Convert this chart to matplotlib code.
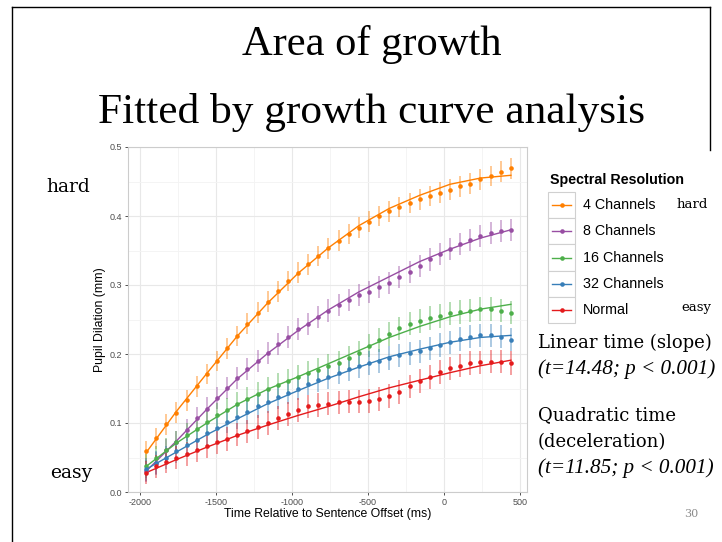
#!/usr/bin/env python3
"""
Pupil dilation growth curve slide
"""
import matplotlib
matplotlib.use('Agg')
import matplotlib.pyplot as plt
from matplotlib.lines import Line2D
from matplotlib.patches import Rectangle

W, H = 722, 542

# time bins (ms relative to sentence offset)
time_ms = [-1960, -1893, -1827, -1760, -1693, -1627, -1560, -1493, -1427,
           -1360, -1293, -1227, -1160, -1093, -1027, -960, -893, -827,
           -760, -693, -627, -560, -493, -427, -360, -293, -227, -160,
           -93, -27, 40, 107, 173, 240, 307, 373, 440]

series_names = ['4 Channels', '8 Channels', '16 Channels', '32 Channels', 'Normal']
colors = ['#FF7F00', '#984EA3', '#4DAF4A', '#377EB8', '#E41A1C']

ch4_mean = [0.059, 0.078, 0.098, 0.115, 0.133, 0.153, 0.171, 0.190, 0.208,
            0.226, 0.244, 0.260, 0.276, 0.291, 0.306, 0.318, 0.330, 0.342,
            0.353, 0.364, 0.374, 0.383, 0.392, 0.400, 0.407, 0.413, 0.419,
            0.424, 0.429, 0.434, 0.438, 0.443, 0.447, 0.453, 0.458, 0.464,
            0.469]
ch8_mean = [0.031, 0.042, 0.061, 0.073, 0.090, 0.107, 0.121, 0.136, 0.151,
            0.165, 0.178, 0.190, 0.202, 0.214, 0.225, 0.236, 0.244, 0.254,
            0.263, 0.271, 0.278, 0.285, 0.290, 0.297, 0.303, 0.311, 0.319,
            0.328, 0.337, 0.345, 0.352, 0.359, 0.365, 0.371, 0.376, 0.378,
            0.380]
ch16_mean = [0.038, 0.049, 0.061, 0.072, 0.083, 0.092, 0.102, 0.112, 0.119,
             0.128, 0.135, 0.142, 0.149, 0.155, 0.161, 0.167, 0.173, 0.177,
             0.183, 0.187, 0.194, 0.202, 0.212, 0.220, 0.229, 0.237, 0.244,
             0.248, 0.252, 0.255, 0.259, 0.261, 0.263, 0.265, 0.265, 0.263,
             0.260]
ch32_mean = [0.033, 0.042, 0.050, 0.059, 0.068, 0.076, 0.085, 0.093, 0.102,
             0.109, 0.116, 0.124, 0.131, 0.137, 0.144, 0.150, 0.157, 0.162,
             0.167, 0.173, 0.178, 0.182, 0.187, 0.190, 0.194, 0.198, 0.201,
             0.204, 0.208, 0.213, 0.217, 0.222, 0.225, 0.227, 0.227, 0.225,
             0.221]
normal_mean = [0.028, 0.037, 0.044, 0.050, 0.055, 0.061, 0.066, 0.072, 0.077,
               0.083, 0.088, 0.094, 0.100, 0.107, 0.113, 0.119, 0.124, 0.126,
               0.128, 0.130, 0.131, 0.131, 0.132, 0.135, 0.139, 0.145, 0.153,
               0.161, 0.167, 0.174, 0.179, 0.183, 0.187, 0.188, 0.189, 0.189,
               0.187]

# standard error per condition
se = [0.015, 0.016, 0.017, 0.017, 0.017]

# fitted growth curves, read at every third bin
fit_time = [-1960, -1760, -1560, -1360, -1160, -960, -760, -560, -360,
            -160, 40, 240, 440]
ch4_fit = [0.057, 0.117, 0.172, 0.226, 0.274, 0.317, 0.354, 0.386, 0.411,
           0.430, 0.446, 0.455, 0.459]
ch8_fit = [0.030, 0.074, 0.120, 0.164, 0.201, 0.234, 0.264, 0.290, 0.312,
           0.334, 0.352, 0.368, 0.380]
ch16_fit = [0.037, 0.071, 0.100, 0.127, 0.149, 0.167, 0.186, 0.205, 0.224,
            0.240, 0.254, 0.265, 0.272]
ch32_fit = [0.033, 0.058, 0.083, 0.106, 0.128, 0.147, 0.165, 0.181, 0.196,
            0.207, 0.217, 0.224, 0.227]
normal_fit = [0.028, 0.047, 0.065, 0.082, 0.097, 0.111, 0.124, 0.138, 0.151,
              0.162, 0.173, 0.183, 0.191]

x_ticks = [-2000, -1500, -1000, -500, 0, 500]
y_ticks = [0.0, 0.1, 0.2, 0.3, 0.4, 0.5]


def fx(x):
    return x / W


def fy(y):
    return 1 - y / H


def main():
    means = [ch4_mean, ch8_mean, ch16_mean, ch32_mean, normal_mean]
    fits = [ch4_fit, ch8_fit, ch16_fit, ch32_fit, normal_fit]

    fig = plt.figure(figsize=(W / 100, H / 100), dpi=100)
    fig.patch.set_facecolor('white')

    ax = fig.add_axes([fx(128), fy(492), (527 - 128) / W, (492 - 147) / H])
    for m, f, c, s in zip(means, fits, colors, se):
        ax.errorbar(time_ms, m, yerr=s, fmt='none', ecolor=c, alpha=0.45,
                    elinewidth=1.3, capsize=0, zorder=2)
        ax.plot(fit_time, f, color=c, lw=1.0, zorder=3)
        ax.plot(time_ms, m, 'o', color=c, ms=3.3, mew=0, zorder=4)

    ax.set_xlim(-2079, 546)
    ax.set_ylim(0, 0.5)
    ax.set_xticks(x_ticks)
    ax.set_xticklabels([str(t) for t in x_ticks])
    ax.set_yticks(y_ticks)
    ax.set_yticklabels(['%.1f' % v for v in y_ticks])
    ax.set_xticks([-1750, -1250, -750, -250, 250], minor=True)
    ax.set_yticks([0.05, 0.15, 0.25, 0.35, 0.45], minor=True)
    ax.grid(which='major', color='#E8E8E8', lw=0.8)
    ax.grid(which='minor', color='#F3F3F3', lw=0.6)
    ax.set_axisbelow(True)
    ax.tick_params(which='major', length=2.5, width=0.6, color='#333333',
                   labelsize=6.5, labelcolor='#4D4D4D', pad=1.5)
    ax.tick_params(which='minor', length=0)
    for lab in ax.get_xticklabels() + ax.get_yticklabels():
        lab.set_family('Liberation Sans')
    for sp in ax.spines.values():
        sp.set_color('#CCCCCC')
        sp.set_linewidth(0.8)
    ax.set_xlabel('Time Relative to Sentence Offset (ms)', family='Liberation Sans',
                  fontsize=8.8, labelpad=1)
    ax.set_ylabel('Pupil Dilation (mm)', family='Liberation Sans',
                  fontsize=8.8, labelpad=3)

    # legend drawn by hand, ggplot style
    fig.text(fx(550), fy(180), 'Spectral Resolution', family='Liberation Sans',
             fontsize=10.3, weight='bold', ha='left', va='center')
    row_h = 26.2
    for i, (name, c) in enumerate(zip(series_names, colors)):
        top = 192 + row_h * i
        cy = top + row_h / 2
        fig.add_artist(Rectangle((fx(548), fy(top + row_h)), 27 / W, row_h / H,
                                 transform=fig.transFigure, facecolor='white',
                                 edgecolor='#D0D0D0', lw=0.8))
        fig.add_artist(Line2D([fx(552), fx(571)], [fy(cy), fy(cy)], color=c,
                              lw=1.0, transform=fig.transFigure))
        fig.add_artist(Line2D([fx(561.5)], [fy(cy)], marker='o', ms=3.3, mew=0,
                              color=c, transform=fig.transFigure))
        fig.text(fx(583), fy(cy), name, family='Liberation Sans', fontsize=10.3,
                 ha='left', va='center')

    # slide text
    fig.text(fx(372), fy(45), 'Area of growth', family='Liberation Serif',
             fontsize=30.6, ha='center', va='center')
    fig.text(fx(372), fy(113), 'Fitted by growth curve analysis',
             family='Liberation Serif', fontsize=31.2, ha='center', va='center')

    serif = 'DejaVu Serif'
    fig.text(fx(46), fy(187), 'hard', family=serif, fontsize=13.5, va='center')
    fig.text(fx(50), fy(473), 'easy', family=serif, fontsize=13.5, va='center')
    fig.text(fx(677), fy(205), 'hard', family=serif, fontsize=9.5, va='center')
    fig.text(fx(681), fy(307), 'easy', family=serif, fontsize=9.5, va='center')

    fig.text(fx(538), fy(343), 'Linear time (slope)', family=serif,
             fontsize=13.0, va='center')
    fig.text(fx(538), fy(369), '(t=14.48; p < 0.001)', family='Liberation Serif',
             fontsize=15.2, style='italic', va='center')
    fig.text(fx(538), fy(415), 'Quadratic time', family=serif,
             fontsize=13.0, va='center')
    fig.text(fx(538), fy(442), '(deceleration)', family=serif,
             fontsize=13.0, va='center')
    fig.text(fx(538), fy(468), '(t=11.85; p < 0.001)', family='Liberation Serif',
             fontsize=15.2, style='italic', va='center')
    fig.text(fx(691), fy(514), '30', family=serif, fontsize=8,
             color='#8C8C8C', ha='center', va='center')

    # slide frame
    fig.add_artist(Line2D([fx(11.5), fx(11.5)], [fy(7), fy(542)], color='black',
                          lw=1.0, transform=fig.transFigure))
    fig.add_artist(Line2D([fx(11.5), fx(710)], [fy(7), fy(7)], color='black',
                          lw=1.0, transform=fig.transFigure))
    fig.add_artist(Line2D([fx(710), fx(710)], [fy(7), fy(150)], color='black',
                          lw=1.0, transform=fig.transFigure))

    fig.savefig('out.png', dpi=100)


if __name__ == "__main__":
    main()
